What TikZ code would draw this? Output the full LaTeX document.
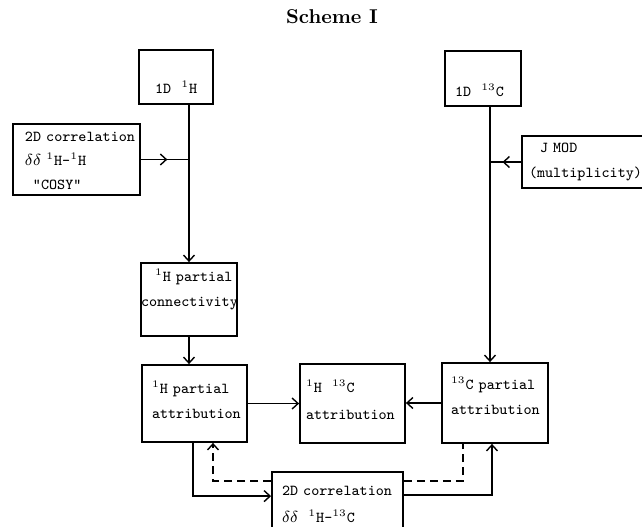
\documentclass[tikz,border=0pt]{standalone}
\usepackage{tikz}
\usetikzlibrary{arrows.meta, positioning, calc, decorations.markings}

\newcommand{\boxfont}{\fontsize{7.6}{12.5}\selectfont\ttfamily}

\begin{document}
\begin{tikzpicture}[x=0.5pt, y=-0.5pt, line width=0.7pt,
  >={Straight Barb[length=3pt, width=5.5pt]},
  box/.style={draw, line width=0.9pt, inner ysep=0pt, align=left, font=\boxfont},
  dashline/.style={dash pattern=on 4pt off 2.5pt},
  midarrow/.style={postaction={decorate},
    decoration={markings, mark=at position #1 with {\arrow{>}}}}]
  \path[use as bounding box, clip] (0,0) rectangle (642,526);

  % Title
  \node[font=\fontsize{10}{12}\selectfont\bfseries] (title) at (332,17) {Scheme I};

  % 1D spectra
  \node[box, inner xsep=8pt, text width=21pt, text height=21.5pt, text depth=5.5pt]
    (h1d) at (176,77) {1D~~$^{1}$H};
  \node[box, inner xsep=5pt, text width=28pt, text height=22.5pt, text depth=5pt]
    (c1d) at (483,78.5) {1D~~$^{13}$C};

  % Side experiments
  \node[box, inner xsep=6pt, text width=51.5pt, text height=8.5pt, text depth=27pt]
    (cosy) at (76.5,159.5) {2D~correlation\\[-0.5pt] $\delta\delta$~$^{1}$H-$^{1}$H\\[-0.5pt] \hspace{4pt}"COSY"};
  \node[box, inner xsep=3.5pt, text width=58pt, text height=8pt, text depth=18pt]
    (jmod) at (587,162) {\hspace{5.5pt}J~MOD\\ (multiplicity)};

  % Partial results
  \node[box, inner xsep=0pt, text width=48pt, text height=9pt, text depth=27.5pt]
    (conn) at (189,299.5) {\hspace{7pt}$^{1}$H~partial\\ connectivity};
  \node[box, inner xsep=5pt, text width=42.5pt, text height=14pt, text depth=24.5pt]
    (hattr) at (194.5,403.5) {$^{1}$H~partial\\ attribution};
  \node[box, inner xsep=3pt, text width=46.5pt, text height=14pt, text depth=25.5pt]
    (attr) at (352.5,403.5) {$^{1}$H~~$^{13}$C\\[1pt] attribution};
  \node[box, inner xsep=4.5pt, text width=44pt, text height=13pt, text depth=27pt]
    (cattr) at (495,403) {$^{13}$C~partial\\ attribution};

  % Heteronuclear correlation
  \node[box, inner xsep=5pt, text width=55.5pt, text height=11.5pt, text depth=25pt]
    (hc2d) at (337.5,508.5) {2D~correlation\\[1pt] $\delta\delta$~~$^{1}$H-$^{13}$C};

  % Connectors
  \coordinate (ctop) at ($(cattr.north)+(-5,0)$);
  \draw[->] (h1d.south -| conn.north) -- (conn.north);
  \draw[midarrow=0.55] (cosy.east) -- (cosy.east -| conn.north);
  \draw[->] (c1d.south -| ctop) -- (ctop);
  \draw[midarrow=0.6] (jmod.west) -- (jmod.west -| ctop);
  \draw[->] (conn.south) -- (conn.south |- hattr.north);
  \draw[->] (hattr.east) -- (attr.west);
  \draw[->] (cattr.west) -- (cattr.west -| attr.east);

  \draw[->] ($(hattr.south)+(-1.5,0)$) |- ($(hc2d.north west)+(0,25)$);
  \draw[->, dashline] ($(hc2d.north west)+(0,10)$) -| ($(hattr.south)+(18.5,0)$);
  \draw[dashline] ($(hc2d.north east)+(0,10)$) -| ($(cattr.south)+(-32,0)$);
  \draw[->] ($(hc2d.north east)+(0,24)$) -| ($(cattr.south)+(-3,0)$);
\end{tikzpicture}
\end{document}
